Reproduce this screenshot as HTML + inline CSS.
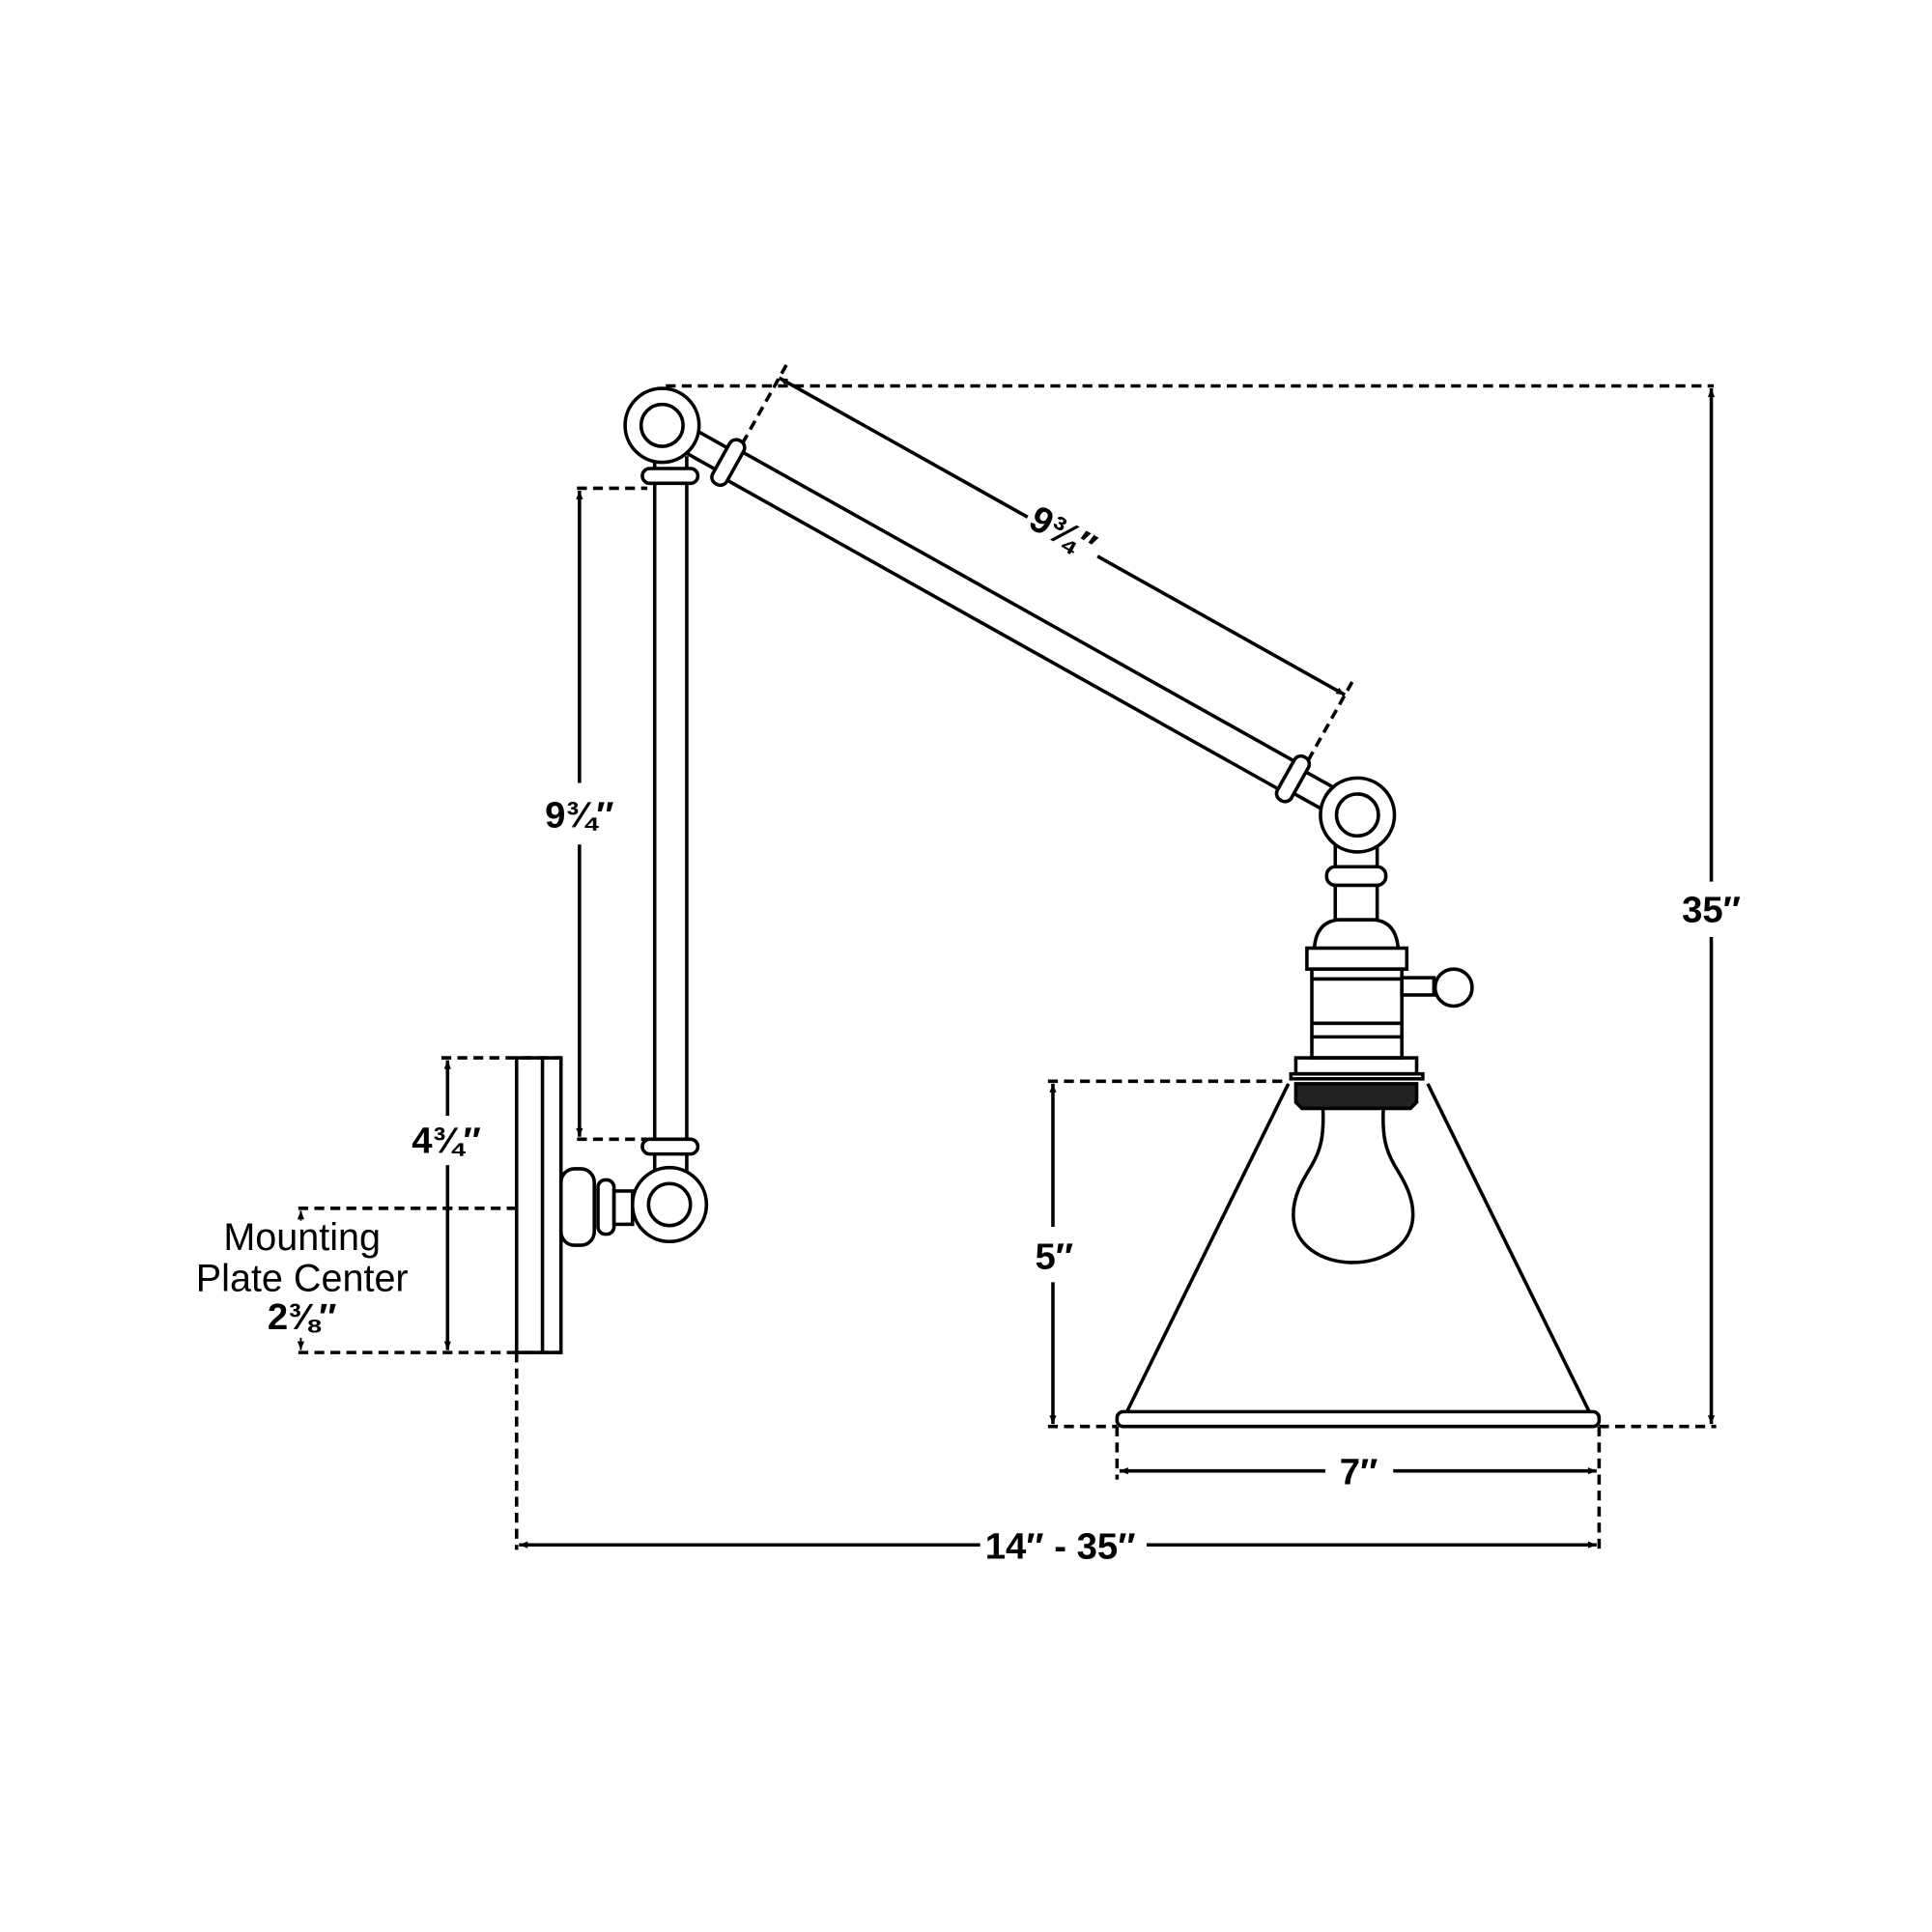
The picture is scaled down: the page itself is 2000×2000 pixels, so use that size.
<!DOCTYPE html>
<html><head><meta charset="utf-8"><style>
html,body{margin:0;padding:0;background:#fff}
svg{display:block}
.t{font-family:"Liberation Sans Narrow","Liberation Sans",sans-serif;font-weight:bold;font-size:30px;fill:#000}
.m{font-family:"Liberation Sans",sans-serif;font-size:31px;fill:#000}
</style></head><body>
<svg width="2000" height="2000" viewBox="0 0 1567 1567" xmlns="http://www.w3.org/2000/svg">
<defs>
<marker id="a" viewBox="0 0 10 10" refX="10" refY="5" markerWidth="8" markerHeight="7" orient="auto-start-reverse" markerUnits="userSpaceOnUse"><path d="M0,1 L10,5 L0,9z" fill="#000"/></marker>
</defs>
<g fill="none" stroke="#000" stroke-width="2.8">
<g stroke-dasharray="8,5">
<line x1="540" y1="313" x2="1390" y2="313"/>
<line x1="468" y1="396" x2="525" y2="396"/>
<line x1="468" y1="924" x2="525" y2="924"/>
<line x1="358" y1="858" x2="455" y2="858"/>
<line x1="242" y1="980" x2="419" y2="980"/>
<line x1="242" y1="1097" x2="455" y2="1097"/>
<line x1="419" y1="1097" x2="419" y2="1257"/>
<line x1="850" y1="877" x2="1045" y2="877"/>
<line x1="850" y1="1157" x2="906" y2="1157"/>
<line x1="1297" y1="1157" x2="1392" y2="1157"/>
<line x1="906" y1="1157" x2="906" y2="1200"/>
<line x1="1297" y1="1157" x2="1297" y2="1257"/>
</g>
<line x1="470" y1="398" x2="470" y2="635" marker-start="url(#a)"/>
<line x1="470" y1="685" x2="470" y2="922" marker-end="url(#a)"/>
<line x1="363" y1="860" x2="363" y2="905" marker-start="url(#a)"/>
<line x1="363" y1="945" x2="363" y2="1095" marker-end="url(#a)"/>
<line x1="244" y1="990" x2="244" y2="982" stroke-width="1.5" marker-end="url(#a)"/>
<line x1="244" y1="1085" x2="244" y2="1095" stroke-width="1.5" marker-end="url(#a)"/>
<line x1="854" y1="879" x2="854" y2="995" marker-start="url(#a)"/>
<line x1="854" y1="1040" x2="854" y2="1155" marker-end="url(#a)"/>
<line x1="1388" y1="315" x2="1388" y2="715" marker-start="url(#a)"/>
<line x1="1388" y1="760" x2="1388" y2="1155" marker-end="url(#a)"/>
<line x1="908" y1="1193" x2="1075" y2="1193" marker-start="url(#a)"/>
<line x1="1130" y1="1193" x2="1295" y2="1193" marker-end="url(#a)"/>
<line x1="421" y1="1253" x2="795" y2="1253" marker-start="url(#a)"/>
<line x1="930" y1="1253" x2="1295" y2="1253" marker-end="url(#a)"/>

<rect x="419" y="858" width="36" height="239"/>
<line x1="440" y1="858" x2="440" y2="1097"/>
<rect x="455" y="948" width="27" height="62" rx="11"/>
<rect x="485" y="957" width="13" height="44" rx="6"/>
<rect x="498" y="966" width="15" height="27"/>
<line x1="531" y1="370" x2="531" y2="955"/>
<line x1="557" y1="370" x2="557" y2="955"/>
<rect x="521" y="380" width="45" height="12" rx="6" fill="#fff"/>
<rect x="521" y="924" width="45" height="12" rx="6" fill="#fff"/>
<circle cx="543" cy="977" r="30" fill="#fff"/>
<circle cx="543" cy="977" r="17"/>
<g transform="translate(537,345) rotate(29.26)">
<line x1="28" y1="-10" x2="56" y2="-10"/><line x1="28" y1="10" x2="56" y2="10"/>
<line x1="67" y1="-13" x2="582" y2="-13"/><line x1="67" y1="13" x2="582" y2="13"/>
<line x1="592" y1="-10" x2="618" y2="-10"/><line x1="592" y1="10" x2="618" y2="10"/>
<rect x="55" y="-20" width="13" height="40" rx="6" fill="#fff"/>
<rect x="580" y="-20" width="13" height="40" rx="6" fill="#fff"/>
<line x1="64" y1="-80" x2="295" y2="-80" marker-start="url(#a)"/>
<line x1="360" y1="-80" x2="590" y2="-80" marker-end="url(#a)"/>
<line x1="64" y1="-92" x2="64" y2="-15" stroke-dasharray="8,5"/>
<line x1="590" y1="-92" x2="590" y2="-15" stroke-dasharray="8,5"/>
</g>
<circle cx="537" cy="345" r="30" fill="#fff"/>
<circle cx="537" cy="345" r="17"/>
<rect x="1083" y="685" width="34" height="61"/>
<rect x="1076" y="703" width="48" height="15" rx="7" fill="#fff"/>
<circle cx="1101" cy="661" r="30" fill="#fff"/>
<circle cx="1101" cy="661" r="17"/>
<path d="M1066,769 Q1068,746 1088,746 L1112,746 Q1132,746 1134,769"/>
<rect x="1060" y="769" width="81" height="17"/>
<rect x="1064" y="786" width="73" height="72"/>
<line x1="1064" y1="794" x2="1137" y2="794"/>
<line x1="1064" y1="830" x2="1137" y2="830"/>
<line x1="1064" y1="841" x2="1137" y2="841"/>
<rect x="1137" y="793" width="26" height="14"/>
<circle cx="1179" cy="801" r="15"/>
<rect x="1051" y="858" width="98" height="13"/>
<rect x="1047" y="871" width="107" height="4"/>
<path d="M1051,879 L1149,879 L1149,894 L1144,899 L1056,899 L1051,894Z" fill="#222"/>
<path d="M1073,899 C1074,922 1071,933 1064,945 C1056,958 1049,970 1049,985 C1049,1010 1072,1024 1097,1024 C1122,1024 1146,1010 1146,985 C1146,970 1139,958 1131,945 C1124,933 1121,922 1122,899"/>
<line x1="1045" y1="879" x2="914" y2="1145"/>
<line x1="1158" y1="879" x2="1289" y2="1145"/>
<rect x="906" y="1145" width="391" height="12" rx="5" fill="#fff"/>
</g>
<text class="t" x="470" y="671" text-anchor="middle">9¾″</text>
<text class="t" x="362" y="935" text-anchor="middle">4¾″</text>
<text class="m" x="245" y="1014" text-anchor="middle">Mounting</text>
<text class="m" x="245" y="1047" text-anchor="middle">Plate Center</text>
<text class="t" x="245" y="1078" text-anchor="middle">2⅜″</text>
<text class="t" x="855" y="1029" text-anchor="middle">5″</text>
<text class="t" x="1388" y="748" text-anchor="middle">35″</text>
<text class="t" x="1102" y="1204" text-anchor="middle">7″</text>
<text class="t" x="860" y="1264" text-anchor="middle">14″ - 35″</text>
<text class="t" x="0" y="10" text-anchor="middle" transform="translate(862,432) rotate(29.26)">9¾″</text>
</svg>
</body></html>
